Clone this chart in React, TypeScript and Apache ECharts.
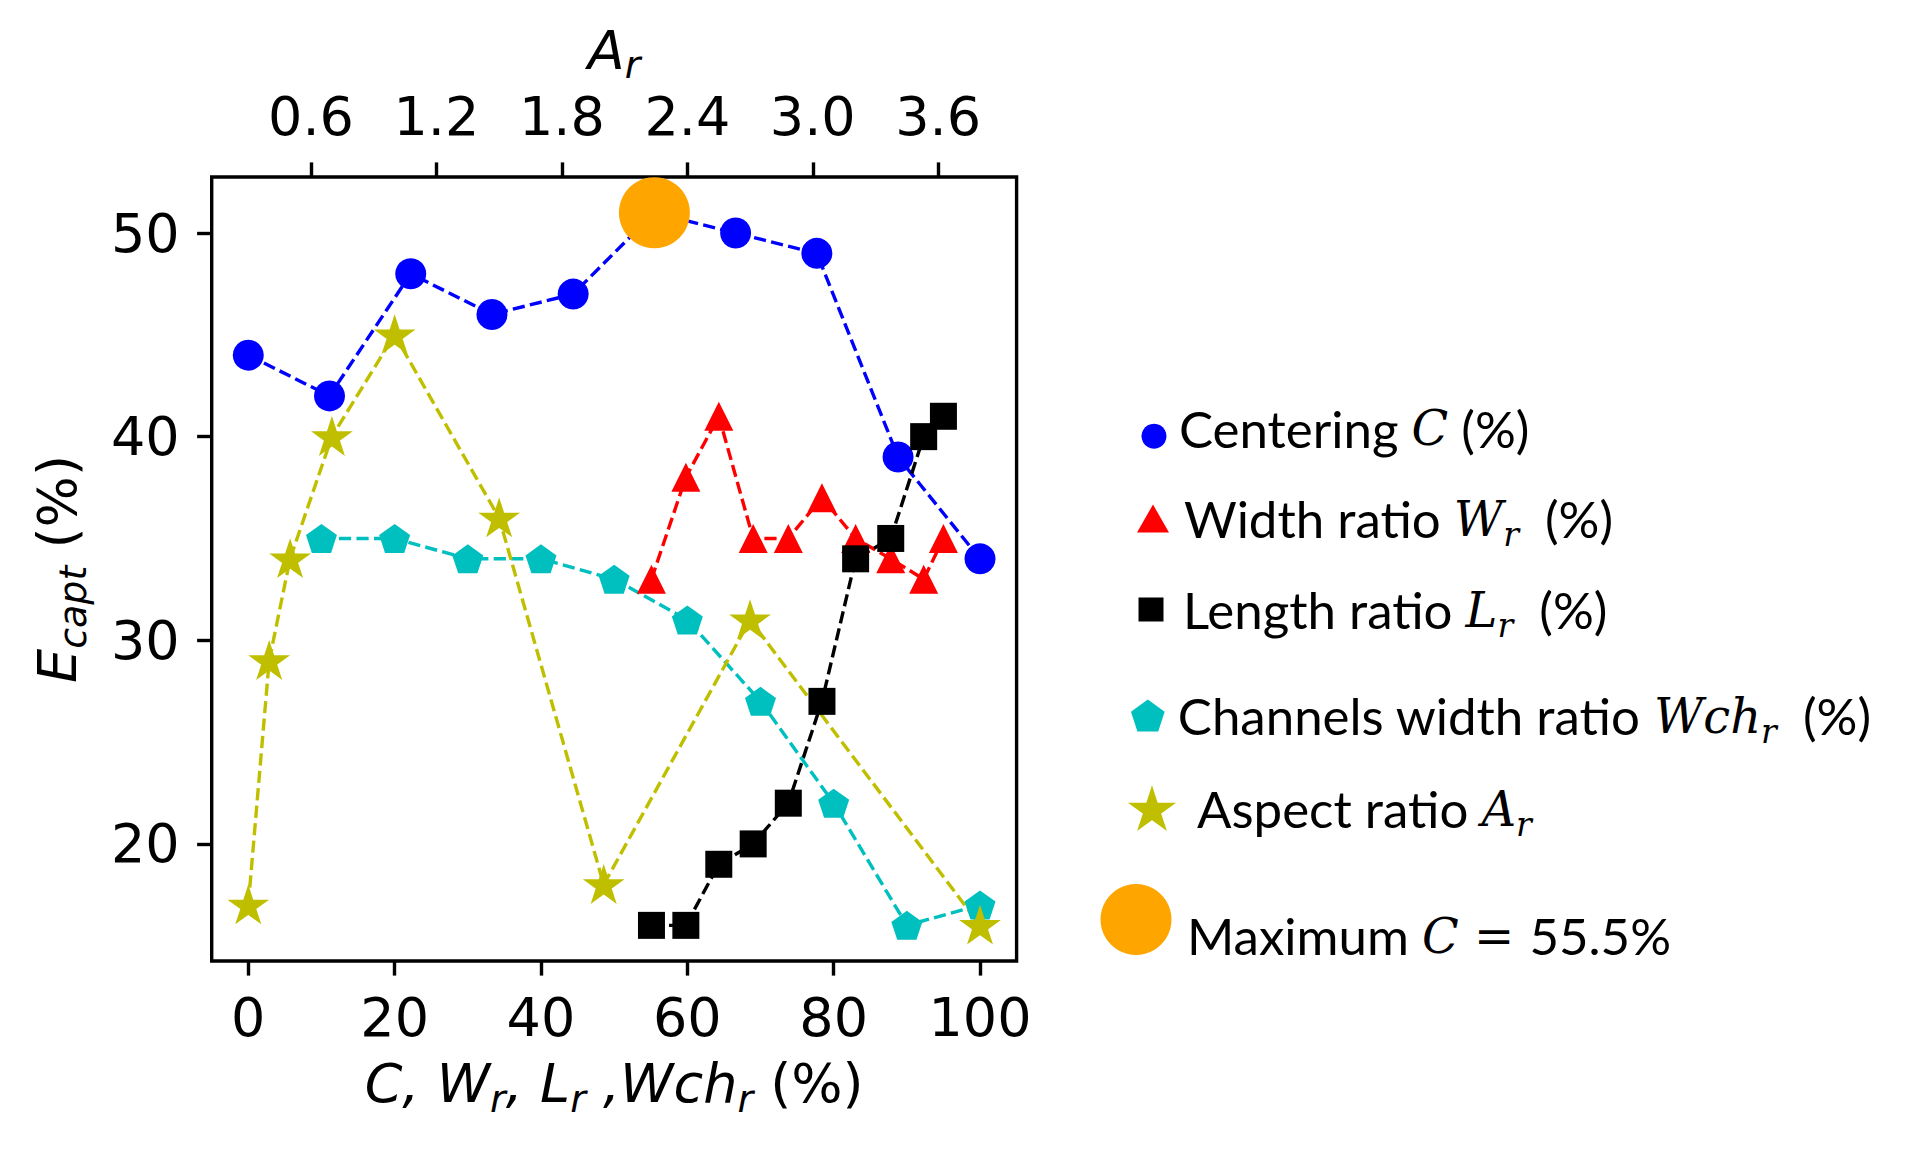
import React, { useEffect, useRef } from "react";
import * as echarts from "echarts";

// ---- data ----
const X_TICKS = [0, 20, 40, 60, 80, 100];
const Y_TICKS = [20, 30, 40, 50];
const AR_TICKS = [0.6, 1.2, 1.8, 2.4, 3.0, 3.6];

const centeringX = [0, 11.1, 22.2, 33.3, 44.4, 55.5, 66.6, 77.7, 88.8, 100];
const centeringY = [44, 42, 48, 46, 47, 51, 50, 49, 39, 34];

const ratioX = [55.1, 59.8, 64.3, 69.0, 73.8, 78.4, 83.0, 87.8, 92.3, 95.0];
const widthY = [33, 38, 41, 35, 35, 37, 35, 34, 33, 35];
const lengthY = [16, 16, 19, 20, 22, 27, 34, 35, 40, 41];

const channelX = [10, 20, 30, 40, 50, 60, 70, 80, 90, 100];
const channelY = [35, 35, 34, 34, 33, 31, 27, 22, 16, 17];

const aspectX = [0.3, 0.4, 0.5, 0.7, 1.0, 1.5, 2.0, 2.7, 3.8];
const aspectY = [17, 29, 34, 40, 45, 36, 18, 31, 16];

const maxX = [55.5];
const maxY = [51];

const NAMES = [
  "Centering C (%)",
  "Width ratio Wr (%)",
  "Length ratio Lr (%)",
  "Channels width ratio Wchr (%)",
  "Aspect ratio Ar",
  "Maximum C = 55.5%",
];

const PENTAGON = "path://M0,-1L0.951,-0.309L0.588,0.809L-0.588,0.809L-0.951,-0.309Z";
const STAR =
  "path://M0,-1L0.2245,-0.309L0.951,-0.309L0.363,0.118L0.588,0.809L0,0.382L-0.588,0.809L-0.363,0.118L-0.951,-0.309L-0.2245,-0.309Z";

const pairs = (xs: number[], ys: number[]) => xs.map((x, i) => [x, ys[i]]);

const DASH = [12.2, 5.3];
const LW = 3.4;

// ---- rich styles for axis names (DejaVu Sans mathtext look) ----
const axisRich = {
  i: { fontFamily: "DejaVu Sans", fontStyle: "italic", fontSize: 54, lineHeight: 70, color: "#000", verticalAlign: "middle" },
  n: { fontFamily: "DejaVu Sans", fontSize: 54, lineHeight: 70, color: "#000", verticalAlign: "middle" },
  s: { fontFamily: "DejaVu Sans", fontStyle: "italic", fontSize: 38, lineHeight: 38, padding: [30, 0, 0, 0], color: "#000", verticalAlign: "middle" },
};

// ---- legend helpers ----
function legendRich(padLeft: number, shift: number) {
  const pt = shift > 0 ? 2 * shift : 0;
  const pb = shift < 0 ? -2 * shift : 0;
  const base = { color: "#000", verticalAlign: "middle" };
  return {
    f: { ...base, fontFamily: "Lato", fontSize: 51, lineHeight: 72, padding: [pt, 0, pb, padLeft] },
    t: { ...base, fontFamily: "Lato", fontSize: 51, lineHeight: 72, padding: [pt, 0, pb, 0] },
    m: { ...base, fontFamily: "DejaVu Serif", fontStyle: "italic", fontSize: 48, lineHeight: 72, padding: [pt, 0, pb, 0] },
    ms: { ...base, fontFamily: "DejaVu Serif", fontStyle: "italic", fontSize: 33, lineHeight: 33, padding: [32 + pt, 0, pb, 0] },
  };
}

const LEGEND_TEXT: Record<string, string> = {
  [NAMES[0]]: "{f|Centering }{m|C}{t| (%)}",
  [NAMES[1]]: "{f|Width ratio }{m|W}{ms|r}{t|  (%)}",
  [NAMES[2]]: "{f|Length ratio }{m|L}{ms|r}{t|  (%)}",
  [NAMES[3]]: "{f|Channels width ratio }{m|Wch}{ms|r}{t|  (%)}",
  [NAMES[4]]: "{f|Aspect ratio }{m|A}{ms|r}",
  [NAMES[5]]: "{f|Maximum }{m|C = }{t|55.5%}",
};

// icon center x, center y, width, height, icon, padLeft, text shift, top correction
const LEGEND_LAYOUT: [number, number, number, number, string, number, number, number][] = [
  [1154, 433.7, 25, 25, "circle", 7.5, -8, 13],
  [1153, 515, 32, 28, "triangle", 10, 0, 7],
  [1151, 610, 25, 24, "rect", 14.5, 0, 3],
  [1149, 716, 36, 32, PENTAGON, 7, 0, 3],
  [1151, 808, 42, 42, STAR, 19, 0, 4],
  [1136, 928, 71, 71, "circle", 10.5, 16, 2],
];

function buildOption() {
  const legends = LEGEND_LAYOUT.map(([cx, cy, w, h, icon, padLeft, shift, corr], idx) => {
    const lineH = 72 + Math.abs(2 * shift);
    const H = Math.max(h, lineH);
    return {
      show: true,
      orient: "horizontal",
      left: cx - w / 2,
      top: cy - H / 2 + corr,
      padding: 0,
      itemWidth: w,
      itemHeight: h,
      selectedMode: false,
      data: [{ name: NAMES[idx], icon }],
      formatter: (name: string) => LEGEND_TEXT[name],
      textStyle: { color: "#000", rich: legendRich(padLeft, shift) },
    };
  });

  const tickStyle = { show: true, inside: false, length: 14.6, lineStyle: { color: "#000", width: LW } };
  const labelBase = { fontFamily: "DejaVu Sans", fontSize: 54, color: "#000" };
  const noLine = { show: false, onZero: false };

  return {
    animation: false,
    backgroundColor: "#fff",
    textStyle: { fontFamily: "DejaVu Sans" },
    grid: {
      show: true,
      left: 211.7,
      right: 1906 - 1016.6,
      top: 177,
      bottom: 1152 - 961,
      borderColor: "#000",
      borderWidth: LW,
      backgroundColor: "transparent",
      containLabel: false,
    },
    legend: legends,
    xAxis: [
      {
        type: "value",
        position: "bottom",
        min: -5,
        max: 105,
        axisLine: noLine,
        splitLine: { show: false },
        axisTick: { ...tickStyle, customValues: X_TICKS },
        axisLabel: { ...labelBase, margin: 29.7, customValues: X_TICKS },
        name: "{i|C, W}{s|r}{i|, L}{s|r}{i| ,Wch}{s|r}{n| (%)}",
        nameLocation: "middle",
        nameGap: 86,
        nameTextStyle: { rich: axisRich },
      },
      {
        type: "value",
        position: "top",
        min: 0.125,
        max: 3.975,
        axisLine: noLine,
        splitLine: { show: false },
        axisTick: { ...tickStyle, customValues: AR_TICKS },
        axisLabel: { ...labelBase, margin: 33.7, customValues: AR_TICKS, formatter: (v: number) => v.toFixed(1) },
        name: "{i|A}{s|r}",
        nameLocation: "middle",
        nameGap: 85.7,
        nameTextStyle: { rich: axisRich },
      },
    ],
    yAxis: [
      {
        type: "value",
        position: "left",
        min: 14.25,
        max: 52.75,
        axisLine: noLine,
        splitLine: { show: false },
        axisTick: { ...tickStyle, customValues: Y_TICKS },
        axisLabel: { ...labelBase, margin: 32, customValues: Y_TICKS },
        name: "{i|E}{s|capt}{n| (%)}",
        nameLocation: "middle",
        nameRotate: 90,
        nameGap: 119,
        nameTextStyle: { rich: axisRich },
      },
    ],
    series: [
      {
        name: NAMES[0],
        type: "line",
        data: pairs(centeringX, centeringY),
        symbol: "circle",
        symbolSize: 31,
        itemStyle: { color: "#0000ff" },
        lineStyle: { color: "#0000ff", width: LW, type: DASH },
      },
      {
        name: NAMES[1],
        type: "line",
        data: pairs(ratioX, widthY),
        symbol: "triangle",
        symbolSize: [29, 29],
        itemStyle: { color: "#ff0000" },
        lineStyle: { color: "#ff0000", width: LW, type: DASH },
      },
      {
        name: NAMES[2],
        type: "line",
        data: pairs(ratioX, lengthY),
        symbol: "rect",
        symbolSize: 27,
        itemStyle: { color: "#000000" },
        lineStyle: { color: "#000000", width: LW, type: DASH },
      },
      {
        name: NAMES[3],
        type: "line",
        data: pairs(channelX, channelY),
        symbol: PENTAGON,
        symbolSize: [31, 29],
        itemStyle: { color: "#00bfbf" },
        lineStyle: { color: "#00bfbf", width: LW, type: DASH },
      },
      {
        name: NAMES[4],
        type: "line",
        xAxisIndex: 1,
        data: pairs(aspectX, aspectY),
        symbol: STAR,
        symbolSize: [29, 27.5],
        itemStyle: { color: "#bfbf00", borderColor: "#bfbf00", borderWidth: 4.2, borderJoin: "miter" },
        lineStyle: { color: "#bfbf00", width: LW, type: DASH },
      },
      {
        name: NAMES[5],
        type: "scatter",
        z: 5,
        data: pairs(maxX, maxY),
        symbol: "circle",
        symbolSize: 71,
        itemStyle: { color: "#ffa500", opacity: 1 },
      },
    ],
  };
}

export default function App() {
  const ref = useRef<HTMLDivElement>(null);
  useEffect(() => {
    if (!ref.current) return;
    const chart = echarts.init(ref.current, undefined, { renderer: "svg" });
    chart.setOption(buildOption() as any);
    return () => chart.dispose();
  }, []);
  return (
    <div
      ref={ref}
      style={{ position: "absolute", left: 0, top: 0, width: 1906, height: 1152, background: "#fff" }}
    />
  );
}
